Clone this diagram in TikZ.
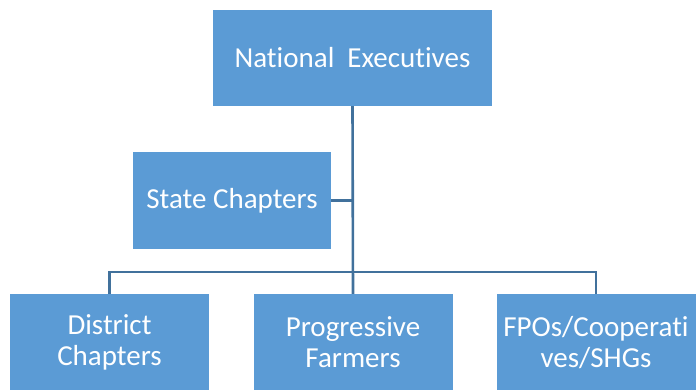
\documentclass[tikz,border=0pt]{standalone}
\usepackage{fontspec}
\setmainfont[Ligatures={NoCommon}]{Carlito}
\definecolor{boxblue}{HTML}{5B9BD5}
\definecolor{lineblue}{HTML}{41719C}
\begin{document}
\begin{tikzpicture}[x=1pt,y=-1pt,
  unit/.style={fill=boxblue,text=white,inner sep=0pt,align=center,
    font=\fontsize{29}{31}\selectfont},
  top/.style={unit,minimum width=279pt,minimum height=96pt},
  side/.style={unit,minimum width=198pt,minimum height=97pt},
  leaf/.style={unit,minimum width=199pt,minimum height=97pt},
  link/.style={draw=lineblue,line width=2.6pt}]
  \useasboundingbox (0,0) rectangle (699,389);
  \node[top] (nat) at (352.5,58) {National\ \ Executives};
  \node[side] (state) at (232,200.5) {State Chapters};
  \node[leaf] (dist) at (109.5,342.5) {District\\Chapters};
  \node[leaf] (prog) at (353,342.5) {Progressive\\Farmers};
  \node[leaf] (fpo) at (596,342.5) {FPOs/Cooperati\\ves/SHGs};
  \coordinate (bus) at (353,272);
  \draw[link] (nat.south) -- (prog.north);
  \draw[link] (state.east) -- (state.east -| nat.south);
  \draw[link] (dist.north) |- (bus) -| (fpo.north);
\end{tikzpicture}
\end{document}
